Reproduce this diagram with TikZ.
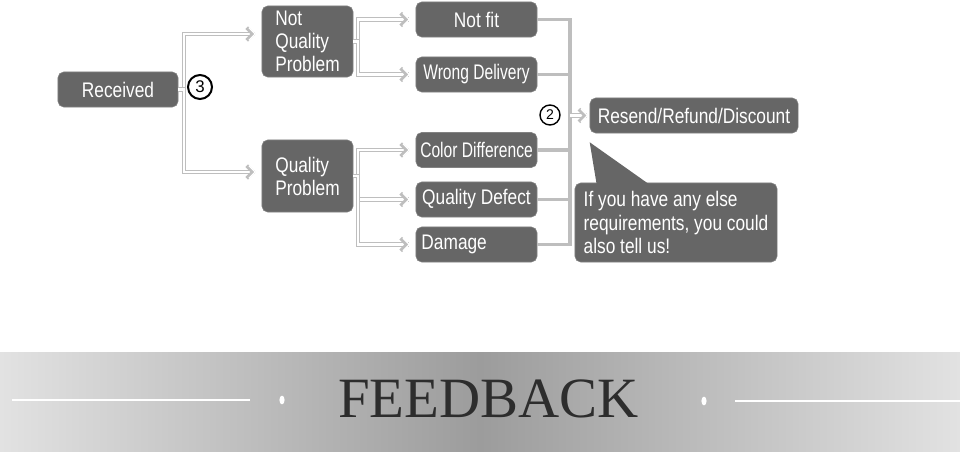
\documentclass[tikz,border=0pt]{standalone}
\usepackage{fontspec}
\setmainfont{Liberation Sans}
\newfontfamily\boxfont[FakeStretch=0.82]{Liberation Sans}
\newfontfamily\narrowfont[FakeStretch=0.74]{Liberation Sans}
\newfontfamily\bannerfont{Liberation Serif}
\usetikzlibrary{arrows.meta,calc}
\definecolor{boxgray}  {RGB}{102,102,102}
\definecolor{boxedge}  {RGB}{130,130,130}
\definecolor{linkgray} {RGB}{190,190,190}
\definecolor{bandlight}{RGB}{226,226,226}
\definecolor{banddark} {RGB}{156,156,156}
\definecolor{inkgray}  {RGB}{45,45,45}

\begin{document}
\begin{tikzpicture}[x=0.025cm,y=-0.025cm,
  every node/.style={font=\boxfont\fontsize{15}{16.4}\selectfont},
  box/.style={draw=boxedge,fill=boxgray,text=white,rounded corners=4pt,
              minimum height=0.875cm,inner sep=2pt,align=center},
  tag/.style={box,minimum width=3.025cm},
  cause/.style={box,minimum width=2.275cm,align=left},
  num/.style={circle,draw=black,line width=1.4pt,inner sep=0pt,minimum size=0.6cm,
              font=\normalfont\fontsize{12}{12}\selectfont},
  dbl/.style={draw=linkgray,line width=0.8pt,double=white,double distance=1.5pt,
              -{Straight Barb[length=4.5pt,width=9pt,line width=2.6pt,sep=-5.2pt]
                Straight Barb[white,length=4.5pt,width=9pt,line width=0.9pt]},
              shorten >=4pt},
  link/.style={draw=linkgray,line width=2.2pt},
]
\useasboundingbox (0,0) rectangle (960,466);

%% ── Received and the first split ─────────────────────────────────────────
\node[box,minimum width=3cm] (recv) at (118,89.5) {Received};
\node[num] (c3) at (200,87) {3};

%% ── Kind of problem ──────────────────────────────────────────────────────
\node[cause,minimum height=1.775cm] (nqp) at (307.5,41.5) {Not\\Quality\\Problem};
\node[cause,minimum height=1.8cm] (qp) at (307.5,176) {Quality\\Problem};

%% ── Causes ───────────────────────────────────────────────────────────────
\node[tag] (nf) at (476.5,19.5)  {Not fit};
\node[tag,font=\narrowfont\fontsize{15}{16.4}\selectfont] (wd) at (476.5,74.5) {Wrong Delivery};
\node[tag,font=\narrowfont\fontsize{15}{16.4}\selectfont] (cd) at (476.5,150) {Color Difference};
\node[tag] (qd) at (476.5,199.5) {Quality Defect};
\node[tag,text width=2.75cm,inner xsep=0.12cm,align=left] (dm) at (476.5,244.5) {Damage};

%% ── Solution ─────────────────────────────────────────────────────────────
\node[num,line width=1pt,minimum size=0.5cm,font=\normalfont\fontsize{10}{10}\selectfont]
  (c2) at (550,115) {2};
\node[box,minimum width=5.2cm] (rs) at (694,115.5) {Resend/Refund/Discount};
\node[box,minimum width=5.05cm,minimum height=1.975cm,align=left] (call) at (676,222.5)
  {If you have any else\\requirements, you could\\also tell us!};
\fill[boxgray] ($(call.north west)+(22,2)$) -- ($(rs.south west)+(0,9)$)
  -- ($(call.north west)+(75,2)$) -- cycle;

%% ── Connections ──────────────────────────────────────────────────────────
\draw[dbl] (recv.east) -- ++(6,0) |- ($(nqp.west)+(0,-7.5)$);
\draw[dbl] (recv.east) -- ++(6,0) |- ($(qp.west)+(0,-4)$);

\draw[dbl] (nqp.east) -- ++(5,0) |- (nf.west);
\draw[dbl] (nqp.east) -- ++(5,0) |- (wd.west);
\draw[dbl] (qp.east) -- ++(5,0) |- (cd.west);
\draw[dbl] (qp.east) -- ++(5,0) |- (qd.west);
\draw[dbl] (qp.east) -- ++(5,0) |- (dm.west);

\coordinate (t2) at (570,115.5);
\foreach \n in {nf,wd,cd,qd,dm}
  \draw[link] (\n.east) -| (t2);
\draw[dbl,shorten >=1pt] (t2) -- (rs.west);

%% ── Banner ───────────────────────────────────────────────────────────────
\shade[left color=bandlight,right color=bandlight,middle color=banddark]
  (0,352) rectangle (960,451);
\draw[white,line width=1pt] (12,400) -- (250,400);
\draw[white,line width=1pt] (735,401) -- (960,401);
\fill[white] (282,400) ellipse [x radius=0.065cm,y radius=0.11cm];
\fill[white] (704,401) ellipse [x radius=0.065cm,y radius=0.11cm];
\node[font=\bannerfont\fontsize{40.5}{40.5}\selectfont,text=inkgray,inner sep=0pt]
  (fb) at (488.5,399) {FEEDBACK};

\end{tikzpicture}
\end{document}
